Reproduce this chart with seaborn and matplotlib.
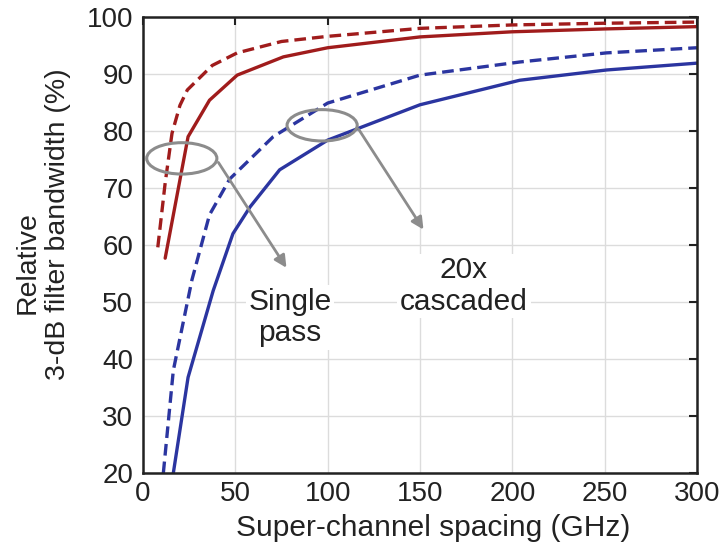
import matplotlib
matplotlib.use("Agg")
import matplotlib.pyplot as plt
import seaborn as sns
import pandas as pd
from matplotlib.patches import Ellipse

sns.set_style("white")
plt.rcParams['font.family'] = ['Liberation Sans', 'DejaVu Sans']

red_dash_x = [8, 12, 15.7, 20, 24, 37.5, 51, 75, 100, 150, 200, 250, 300]
red_dash_y = [59.6, 70.9, 79.6, 84.5, 87.2, 91.5, 93.7, 95.7, 96.6, 98.0, 98.6, 98.9, 99.1]
red_sol_x = [12, 24.4, 36, 51, 76, 100, 150, 200, 250, 300]
red_sol_y = [57.7, 79.0, 85.4, 89.8, 93.0, 94.6, 96.5, 97.4, 97.9, 98.3]
blue_dash_x = [11, 16.4, 26.5, 36, 47, 70.5, 100, 150, 204, 251, 300]
blue_dash_y = [20, 38, 53.9, 65.3, 71.6, 79.0, 84.9, 89.8, 92.1, 93.7, 94.6]
blue_sol_x = [16.4, 24.4, 38, 48.7, 58, 74, 100, 150, 204, 251, 300]
blue_sol_y = [20, 36.8, 52, 62, 66.7, 73.2, 78.4, 84.6, 88.9, 90.7, 91.9]

x_ticks = [0, 50, 100, 150, 200, 250, 300]
y_ticks = [20, 30, 40, 50, 60, 70, 80, 90, 100]

RED = "#a01c1c"
BLUE = "#2b35a0"
GRAY = "#8c8c8c"
TXT = "#222222"

fig = plt.figure(figsize=(7.26, 5.47), dpi=100)
ax = fig.add_axes([0.197, 0.135, 0.763, 0.834])

series = [
    (red_dash_x, red_dash_y, RED, (0, (3.5, 1.8))),
    (red_sol_x, red_sol_y, RED, '-'),
    (blue_dash_x, blue_dash_y, BLUE, (0, (3.5, 1.8))),
    (blue_sol_x, blue_sol_y, BLUE, '-'),
]
for xs, ys, c, ls in series:
    df = pd.DataFrame({"x": xs, "y": ys})
    sns.lineplot(data=df, x="x", y="y", ax=ax, color=c, lw=2.4,
                 linestyle=ls, sort=False, estimator=None)

ax.set_xlim(0, 300)
ax.set_ylim(20, 100)
ax.set_xticks(x_ticks)
ax.set_yticks(y_ticks)
ax.grid(True, color="#dcdcdc", lw=1.0)
ax.set_axisbelow(True)
for s in ax.spines.values():
    s.set_color(TXT)
    s.set_linewidth(1.8)
ax.tick_params(direction='in', length=6, width=1.5, top=True, right=True,
               labelsize=20, colors=TXT)
ax.tick_params(axis='y', pad=7)
ax.tick_params(axis='x', pad=6)
ax.set_xlabel("")
ax.set_ylabel("")
ax.text(0.523, -0.12, "Super-channel spacing (GHz)", transform=ax.transAxes,
        fontsize=21.5, color=TXT, ha="center", va="center")
ax.text(-0.2076, 0.4627, "Relative", transform=ax.transAxes, rotation=90,
        fontsize=20.5, color=TXT, ha="center", va="center")
ax.text(-0.1534, 0.546, "3-dB filter bandwidth (%)", transform=ax.transAxes, rotation=90,
        fontsize=20.5, color=TXT, ha="center", va="center")

ax.add_patch(Ellipse((21, 75.2), 38, 5.5, fill=False, ec=GRAY, lw=2.2, zorder=5))
ax.add_patch(Ellipse((97, 81), 38, 5.5, fill=False, ec=GRAY, lw=2.2, zorder=5))
ax.annotate("", xy=(78.5, 55.6), xytext=(40, 74.9),
            arrowprops=dict(arrowstyle="-|>", color=GRAY, lw=2.0, mutation_scale=18), zorder=5)
ax.annotate("", xy=(152.7, 62.3), xytext=(116, 80.7),
            arrowprops=dict(arrowstyle="-|>", color=GRAY, lw=2.0, mutation_scale=18), zorder=5)

ax.text(79.6, 47.3, "Single\npass", fontsize=21.5, ha="center", va="center", color=TXT,
        linespacing=1.15, bbox=dict(fc="white", ec="none", pad=2), zorder=6)
ax.text(173.8, 52.8, "20x\ncascaded", fontsize=21.5, ha="center", va="center", color=TXT,
        linespacing=1.15, bbox=dict(fc="white", ec="none", pad=2), zorder=6)

fig.savefig("out.png", dpi=100)
